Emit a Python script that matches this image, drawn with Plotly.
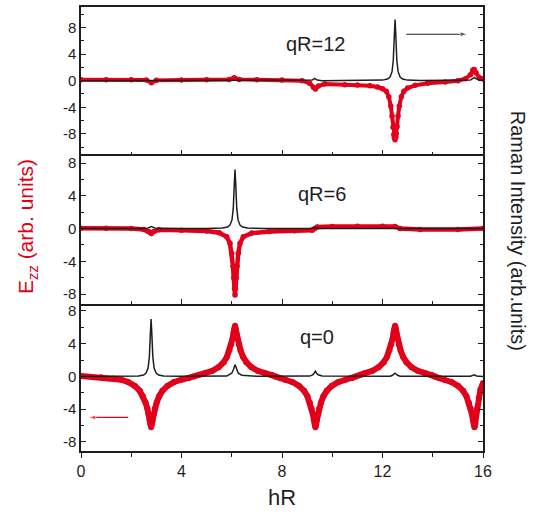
import plotly.graph_objects as go
from plotly.subplots import make_subplots

# ---- qR = 12 (top panel) ----
hr_red_q12 = [0.0, 1.0, 2.0, 2.6, 2.8, 3.0, 4.0, 5.0, 5.9, 6.1, 6.3, 7.0, 8.0, 8.8, 9.1,
              9.25, 9.33, 9.45, 9.7, 10.5, 11.0, 11.5, 11.8, 12.0, 12.15, 12.25, 12.33,
              12.38, 12.42, 12.45, 12.47, 12.5, 12.53, 12.55, 12.58, 12.62, 12.67, 12.75,
              12.85, 13.0, 13.3, 13.8, 14.5, 15.0, 15.3, 15.5, 15.6, 15.65, 15.72, 15.85, 16.0]
ezz_q12 = [0.15, 0.15, 0.15, 0.1, -0.3, 0.05, 0.1, 0.15, 0.2, 0.45, 0.2, 0.15, 0.1, 0.0, -0.4,
           -1.0, -1.25, -0.8, -0.5, -0.6, -0.65, -0.75, -0.95, -1.2, -1.6, -2.4, -3.8,
           -5.3, -7.0, -8.1, -8.6, -8.9, -8.5, -8.0, -6.9, -5.3, -3.8, -2.4,
           -1.6, -1.1, -0.7, -0.4, -0.2, 0.0, 0.3, 0.9, 1.6, 1.7, 1.2, 0.5, 0.25]
hr_black_q12 = [0.0, 2.6, 2.8, 3.0, 9.0, 9.2, 9.3, 9.4, 9.6, 11.5, 12.0, 12.2, 12.3, 12.38,
                12.43, 12.47, 12.5, 12.53, 12.57, 12.62, 12.7, 12.8, 13.0, 13.5, 15.3, 15.5,
                15.6, 15.66, 15.72, 15.85, 16.0]
raman_q12 = [0.0, 0.0, 0.1, 0.0, 0.0, 0.1, 0.35, 0.1, 0.0, 0.02, 0.09, 0.25, 0.54, 1.36,
             3.11, 6.76, 9.2, 6.76, 3.11, 1.36, 0.54, 0.25, 0.09, 0.02, 0.02, 0.1,
             0.35, 0.5, 0.3, 0.1, 0.05]

# ---- qR = 6 (middle panel) ----
hr_red_q6 = [0.0, 1.0, 2.0, 2.5, 2.7, 2.8, 2.9, 3.1, 4.0, 5.0, 5.5, 5.8, 5.93, 6.0, 6.05,
             6.08, 6.11, 6.13, 6.15, 6.18, 6.21, 6.26, 6.33, 6.46, 6.8, 7.5, 8.5, 9.2,
             9.3, 9.4, 10.0, 11.0, 12.0, 12.5, 12.7, 13.5, 15.0, 16.0]
ezz_q6 = [0.05, 0.05, 0.0, -0.1, -0.35, -0.6, -0.35, -0.15, -0.2, -0.3, -0.5, -1.0, -1.8,
          -3.0, -4.6, -6.0, -7.3, -8.1, -7.3, -6.0, -4.6, -3.0, -1.8, -1.0, -0.55, -0.35,
          -0.25, -0.2, 0.0, 0.2, 0.25, 0.3, 0.3, 0.25, 0.0, -0.1, -0.1, 0.0]
hr_black_q6 = [0.0, 2.6, 2.8, 3.0, 5.0, 5.63, 5.83, 5.93, 6.01, 6.06, 6.10, 6.13, 6.16,
               6.20, 6.25, 6.33, 6.43, 6.63, 7.3, 9.1, 9.3, 9.5, 16.0]
raman_q6 = [0.0, 0.0, 0.25, 0.0, 0.02, 0.07, 0.19, 0.42, 1.06, 2.43, 5.3, 7.2, 5.3,
            2.43, 1.06, 0.42, 0.19, 0.07, 0.02, 0.0, 0.1, 0.0, 0.0]

# ---- q = 0 (bottom panel) ----
hr_red_q0 = [0.0, 0.8, 1.3, 1.6, 1.89, 2.14, 2.34, 2.47, 2.57, 2.64, 2.69, 2.73, 2.76, 2.79,
             2.82, 2.85, 2.89, 2.94, 3.01, 3.11, 3.24, 3.44, 3.69, 3.99, 4.3, 4.5, 4.7,
             4.93, 5.23, 5.48, 5.68, 5.81, 5.91, 5.98, 6.03, 6.07, 6.10, 6.13, 6.16, 6.19,
             6.23, 6.28, 6.35, 6.45, 6.58, 6.78, 7.03, 7.33, 7.6, 7.75, 7.93, 8.13, 8.43,
             8.68, 8.88, 9.01, 9.11, 9.18, 9.23, 9.27, 9.30, 9.33, 9.36, 9.39, 9.43, 9.48,
             9.55, 9.65, 9.78, 9.98, 10.23, 10.53, 10.8, 10.95, 11.12, 11.3, 11.6, 11.85,
             12.05, 12.18, 12.28, 12.35, 12.40, 12.44, 12.47, 12.50, 12.53, 12.56, 12.60,
             12.65, 12.72, 12.82, 12.95, 13.15, 13.4, 13.7, 13.95, 14.1, 14.26, 14.46,
             14.76, 15.01, 15.21, 15.34, 15.44, 15.51, 15.56, 15.60, 15.63, 15.66, 15.69,
             15.72, 15.77, 15.83, 15.9, 16.0]
ezz_q0 = [0.05, -0.1, -0.25, -0.4, -0.7, -1.15, -1.75, -2.4, -3.2, -3.9, -4.6, -5.3, -5.8, -6.2,
          -5.8, -5.3, -4.6, -3.9, -3.2, -2.4, -1.75, -1.15, -0.7, -0.4, -0.2, 0.0, 0.2,
          0.4, 0.7, 1.15, 1.75, 2.4, 3.2, 3.9, 4.6, 5.3, 5.8, 6.2, 5.8, 5.3,
          4.6, 3.9, 3.2, 2.4, 1.75, 1.15, 0.7, 0.4, 0.2, 0.0, -0.2, -0.4, -0.7,
          -1.15, -1.75, -2.4, -3.2, -3.9, -4.6, -5.3, -5.8, -6.2, -5.8, -5.3, -4.6, -3.9,
          -3.2, -2.4, -1.75, -1.15, -0.7, -0.4, -0.2, 0.0, 0.2, 0.4, 0.7, 1.15,
          1.75, 2.4, 3.2, 3.9, 4.6, 5.3, 5.8, 6.2, 5.8, 5.3, 4.6,
          3.9, 3.2, 2.4, 1.75, 1.15, 0.7, 0.4, 0.2, 0.0, -0.2, -0.4,
          -0.7, -1.15, -1.75, -2.4, -3.2, -3.9, -4.6, -5.3, -5.8, -6.2, -5.8,
          -5.0, -3.9, -2.6, -1.6, -0.8]
hr_black_q0 = [0.0, 2.29, 2.49, 2.59, 2.67, 2.72, 2.76, 2.79, 2.82, 2.86, 2.91, 2.99, 3.09,
               3.29, 4.0, 5.8, 6.0, 6.07, 6.13, 6.19, 6.26, 6.4, 7.0, 9.1, 9.22, 9.28, 9.33,
               9.38, 9.44, 9.6, 12.3, 12.4, 12.5, 12.6, 12.7, 15.5, 15.58, 15.66, 15.74,
               15.85, 16.0]
raman_q0 = [0.0, 0.07, 0.18, 0.41, 1.04, 2.36, 5.15, 7.0, 5.15, 2.36, 1.04, 0.41, 0.18,
            0.07, 0.02, 0.05, 0.4, 0.85, 1.45, 0.85, 0.4, 0.15, 0.02, 0.05, 0.2, 0.4, 0.65,
            0.4, 0.2, 0.05, 0.03, 0.15, 0.4, 0.15, 0.03, 0.02, 0.07, 0.2, 0.07,
            0.02, 0.0]

# Guide arrows: (tail hR, head hR, level)
arrow_raman = (12.95, 15.39, 7.0)
arrow_ezz = (1.88, 0.29, -5.0)

RED = "#e2001a"
INK = "#1e1e1e"
FONT = "Liberation Sans, Arial, sans-serif"

fig = make_subplots(rows=3, cols=1, shared_xaxes=True, vertical_spacing=0)

panels = [
    (1, hr_red_q12, ezz_q12, hr_black_q12, raman_q12, 4.0, 5.5),
    (2, hr_red_q6, ezz_q6, hr_black_q6, raman_q6, 4.5, 5.5),
    (3, hr_red_q0, ezz_q0, hr_black_q0, raman_q0, 6.0, 6.0),
]
for row, hx, ey, hb, rb, lw, ms in panels:
    fig.add_trace(go.Scatter(x=hx, y=ey, mode="lines+markers",
                             line=dict(color=RED, width=lw),
                             marker=dict(color=RED, size=ms),
                             showlegend=False, hoverinfo="skip"), row=row, col=1)
    fig.add_trace(go.Scatter(x=hb, y=rb, mode="lines",
                             line=dict(color=INK, width=1.5),
                             showlegend=False, hoverinfo="skip"), row=row, col=1)

# arrows drawn as a line ending in an arrow-shaped marker
for (x0, x1, lvl), color, row in [(arrow_raman, INK, 1), (arrow_ezz, RED, 3)]:
    fig.add_trace(go.Scatter(x=[x0, x1], y=[lvl, lvl], mode="lines+markers",
                             line=dict(color=color, width=1.1),
                             marker=dict(symbol="arrow", size=[0, 8], color=color,
                                         angleref="previous"),
                             showlegend=False, hoverinfo="skip"), row=row, col=1)

yticks = [-8, -4, 0, 4, 8]
ycommon = dict(
    tickvals=yticks, ticktext=[str(v) for v in yticks],
    ticks="inside", ticklen=5, tickwidth=1.2, tickcolor=INK,
    minor=dict(tickvals=[-10, -6, -2, 2, 6, 10], ticks="inside", ticklen=3,
               tickwidth=1.0, tickcolor=INK),
    showline=True, linecolor=INK, linewidth=1.5, mirror="allticks",
    showgrid=False, zeroline=False,
    tickfont=dict(family=FONT, size=15, color=INK),
)
fig.update_layout(
    yaxis=dict(ycommon, range=[-11.1, 11.1], domain=[0.668, 1.0]),
    yaxis2=dict(ycommon, range=[-9.15, 9.05], domain=[0.332, 0.668]),
    yaxis3=dict(ycommon, range=[-9.1, 8.9], domain=[0.0, 0.332]),
)

xcommon = dict(
    range=[0, 16], tick0=0, dtick=4, tickwidth=1.2, tickcolor=INK,
    showline=True, linecolor=INK, linewidth=1.5,
    showgrid=False, zeroline=False,
    tickfont=dict(family=FONT, size=16, color=INK),
)
fig.update_layout(
    xaxis=dict(xcommon, mirror=True, ticks="inside", ticklen=5, showticklabels=False,
               minor=dict(dtick=2, ticks="inside", ticklen=3, tickcolor=INK)),
    xaxis2=dict(xcommon, mirror=False, ticks="inside", ticklen=5, showticklabels=False,
                minor=dict(dtick=2, ticks="inside", ticklen=3, tickcolor=INK)),
    xaxis3=dict(xcommon, mirror=False, ticks="outside", ticklen=5, showticklabels=True,
                minor=dict(dtick=2, ticks="outside", ticklen=4, tickcolor=INK)),
)

annotations = [
    # panel labels
    dict(x=9.34, y=5.6, xref="x", yref="y", text="qR=12", showarrow=False,
         font=dict(family=FONT, size=20, color=INK)),
    dict(x=9.58, y=4.2, xref="x2", yref="y2", text="qR=6", showarrow=False,
         font=dict(family=FONT, size=20, color=INK)),
    dict(x=9.38, y=4.78, xref="x3", yref="y3", text="q=0", showarrow=False,
         font=dict(family=FONT, size=20, color=INK)),
    # axis titles
    dict(x=0.5, y=-0.105, xref="paper", yref="paper", text="hR", showarrow=False,
         font=dict(family=FONT, size=22, color=INK), xanchor="center", yanchor="middle"),
    dict(x=-0.134, y=0.505, xref="paper", yref="paper",
         text="E<sub>zz</sub> (arb. units)", showarrow=False, textangle=-90,
         font=dict(family=FONT, size=21, color=RED), xanchor="center", yanchor="middle"),
    dict(x=1.087, y=0.496, xref="paper", yref="paper",
         text="Raman Intensity (arb.units)", showarrow=False, textangle=90,
         font=dict(family=FONT, size=20, color=INK), xanchor="center", yanchor="middle"),
]

fig.update_layout(
    width=537, height=512,
    margin=dict(l=81, r=54, t=5, b=61),
    paper_bgcolor="white", plot_bgcolor="white",
    annotations=annotations,
    showlegend=False,
)

fig.write_html("out.html")
